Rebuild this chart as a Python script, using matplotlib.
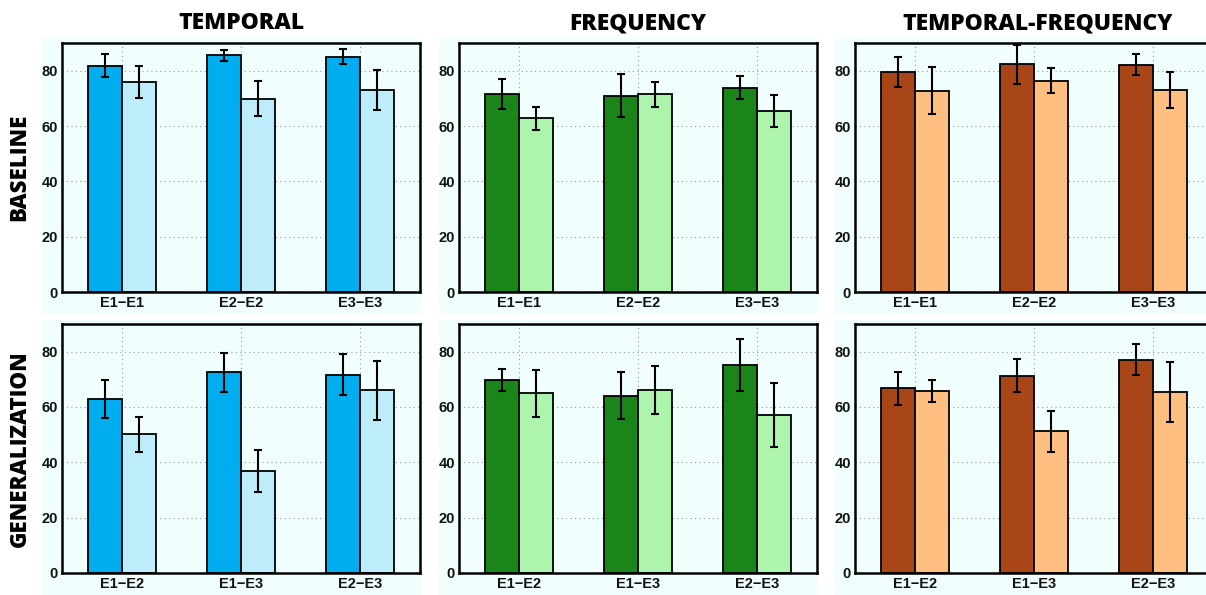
import numpy as np
import matplotlib
matplotlib.use("Agg")
import matplotlib.pyplot as plt
from matplotlib.patches import Rectangle

col_titles = ["TEMPORAL", "FREQUENCY", "TEMPORAL-FREQUENCY"]
row_titles = ["BASELINE", "GENERALIZATION"]
row_labels = [["E1\u2212E1", "E2\u2212E2", "E3\u2212E3"],
              ["E1\u2212E2", "E1\u2212E3", "E2\u2212E3"]]

# [row][col] -> dark bars, light bars, errors
dark = [[[81.8, 85.5, 85.1], [71.7, 71.0, 73.9], [79.5, 82.3, 82.2]],
        [[62.8, 72.6, 71.7], [69.9, 64.1, 75.1], [66.7, 71.3, 77.1]]]
dark_err = [[[4.2, 2.0, 2.6], [5.4, 7.7, 4.0], [5.3, 7.0, 3.9]],
            [[6.8, 7.0, 7.5], [4.0, 8.5, 9.3], [6.0, 6.0, 5.6]]]
light = [[[75.9, 69.8, 73.1], [62.8, 71.4, 65.4], [72.8, 76.3, 72.9]],
         [[50.1, 36.7, 66.1], [64.9, 66.0, 57.2], [65.7, 51.2, 65.4]]]
light_err = [[[5.7, 6.3, 7.3], [4.2, 4.6, 5.7], [8.6, 4.5, 6.45]],
             [[6.45, 7.6, 10.7], [8.5, 8.7, 11.5], [3.9, 7.5, 10.9]]]

dark_cols = ["#00aeef", "#1a861a", "#a84617"]
light_cols = ["#bdedfb", "#adf5ad", "#ffbf80"]
bg = "#f0fefe"

W, H = 1206, 595
fig = plt.figure(figsize=(W / 100, H / 100), dpi=100)

lefts = [62, 459, 855]
bg_lefts = [42, 439, 835]
widths = [358, 358, 366]
tops = [43, 324]
bg_tops = [38, 320]
ah = 249

x = np.arange(1, 4)
bw = 0.285

for r in range(2):
    for c in range(3):
        aw = widths[c]
        # panel background
        bx0 = bg_lefts[c]
        bx1 = lefts[c] + aw + 1
        by0 = bg_tops[r]
        by1 = tops[r] + ah + 22
        fig.patches.append(Rectangle((bx0 / W, 1 - by1 / H), (bx1 - bx0) / W, (by1 - by0) / H,
                                     transform=fig.transFigure, facecolor=bg, edgecolor="none", zorder=-5))
        ax = fig.add_axes([lefts[c] / W, 1 - (tops[r] + ah) / H, aw / W, ah / H])
        ax.set_facecolor(bg)
        ax.set_axisbelow(True)
        ax.grid(True, linestyle=(0, (1, 3)), color="#999999", linewidth=0.8)
        ax.bar(x - bw / 2, dark[r][c], bw, color=dark_cols[c], edgecolor="black", linewidth=1.3, zorder=2)
        ax.bar(x + bw / 2, light[r][c], bw, color=light_cols[c], edgecolor="black", linewidth=1.3, zorder=2)
        ax.errorbar(x - bw / 2, dark[r][c], yerr=dark_err[r][c], fmt="none", ecolor="black",
                    elinewidth=1.5, capsize=3, capthick=1.5, zorder=3)
        ax.errorbar(x + bw / 2, light[r][c], yerr=light_err[r][c], fmt="none", ecolor="black",
                    elinewidth=1.5, capsize=3, capthick=1.5, zorder=3)
        ax.set_xlim(0.5, 0.5 + 3.0 * aw / 358)
        ax.set_ylim(0, 90)
        ax.set_yticks([0, 20, 40, 60, 80])
        ax.set_xticks(x)
        ax.set_xticklabels(row_labels[r])
        ax.tick_params(length=0, pad=3, labelsize=10.5)
        for lab in ax.get_xticklabels() + ax.get_yticklabels():
            lab.set_fontweight("bold")
            lab.set_family("Liberation Sans")
            lab.set_color("#111111")
        for s in ax.spines.values():
            s.set_linewidth(1.8)
        if r == 0:
            ax.set_title(col_titles[c], fontsize=16.5, fontweight="heavy", family="Open Sans", pad=10)
        if c == 0:
            ax.set_ylabel(row_titles[r], fontsize=16, fontweight="heavy", family="Open Sans", labelpad=7)

fig.savefig("out.png", dpi=100, facecolor="white")
